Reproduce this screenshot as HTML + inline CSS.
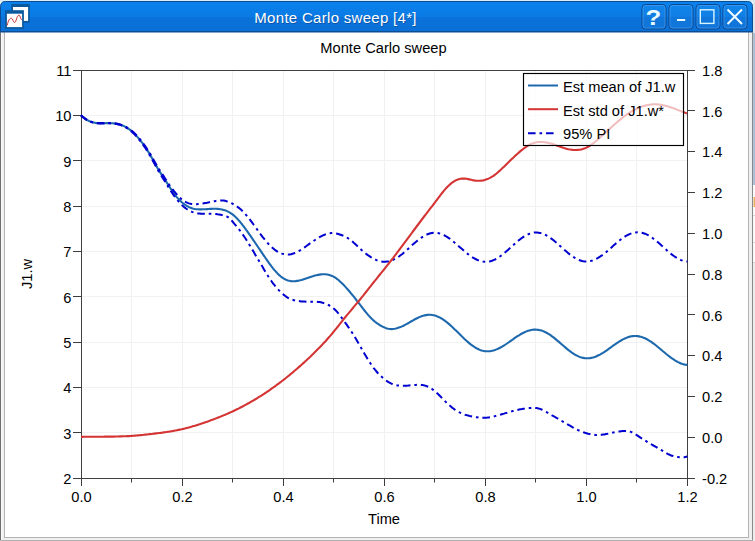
<!DOCTYPE html>
<html><head><meta charset="utf-8"><title>Monte Carlo sweep</title>
<style>
html,body{margin:0;padding:0;}
body{width:755px;height:541px;overflow:hidden;background:#fff;position:relative;font-family:"Liberation Sans",sans-serif;}
#win{position:absolute;left:0;top:0;width:755px;height:541px;}
svg text{font-family:"Liberation Sans",sans-serif;}
</style></head><body>
<svg id="win" width="755" height="541" viewBox="0 0 755 541">
<defs>
<linearGradient id="tb" x1="0" y1="0" x2="0" y2="1">
<stop offset="0" stop-color="#0a82ec"/><stop offset="0.5" stop-color="#0a7ae4"/><stop offset="0.52" stop-color="#0a72da"/><stop offset="1" stop-color="#0a70d6"/>
</linearGradient>
<linearGradient id="bt" x1="0" y1="0" x2="0" y2="1">
<stop offset="0" stop-color="#1a86ea"/><stop offset="0.5" stop-color="#0e78dc"/><stop offset="1" stop-color="#0a6ccc"/>
</linearGradient>
</defs>
<!-- outside strip right -->
<rect x="753" y="0" width="2" height="541" fill="#ececec"/>
<rect x="753" y="33" width="2" height="152" fill="#a9c0d6"/>
<rect x="753" y="185" width="2" height="78" fill="#fafafa"/>
<rect x="753.5" y="197" width="1.5" height="10" fill="#eeb060"/>
<rect x="753" y="215" width="2" height="1" fill="#d8d8d8"/>
<rect x="753" y="242" width="2" height="1" fill="#d8d8d8"/>
<rect x="753" y="262" width="2" height="1" fill="#d0d0d0"/>
<rect x="753" y="0" width="2" height="33" fill="#dfe7ee"/>
<!-- frame -->
<rect x="0" y="30" width="753" height="511" fill="#f0f0f0"/>
<rect x="1" y="30" width="1" height="510" fill="#fbfbfb"/>
<rect x="0" y="30" width="1" height="511" fill="#6e6e6e"/>
<rect x="752" y="30" width="1" height="511" fill="#8a8a8a"/>
<rect x="0" y="540" width="753" height="1" fill="#b0b0b0"/>
<rect x="4" y="31" width="745" height="507" fill="#b4b4b4"/>
<rect x="5" y="32" width="743" height="505" fill="#ffffff"/>
<!-- titlebar -->
<rect x="0" y="0" width="755" height="2" fill="#d8ecf6"/>
<path d="M0.5,32 V6.5 Q0.5,1.5 5.5,1.5 H747.5 Q752.5,1.5 752.5,6.5 V32 Z" fill="url(#tb)" stroke="#0b4c92" stroke-width="1"/>
<rect x="0" y="31" width="753" height="1" fill="#0b4c92"/>
<!-- icon -->
<g>
<rect x="11.2" y="4" width="18.6" height="18.8" fill="#0b5a9e"/>
<rect x="13" y="7" width="15.1" height="13.9" fill="#ffffff"/>
<rect x="5" y="10.2" width="18.9" height="18.7" fill="#0b5a9e"/>
<rect x="6.9" y="13.7" width="15.2" height="13.4" fill="#ffffff"/>
<path d="M7.2,25.4 C8.2,20.5 9.8,18 11.3,18.2 C12.8,18.4 13.4,22.5 14.6,22.5 C16.2,22.5 16.8,15.2 18.8,15.2 C20.4,15.2 20.5,19 21.6,19.8" fill="none" stroke="#c92f2f" stroke-width="1"/>
</g>
<text x="255" y="24" font-size="15" letter-spacing="0.3" fill="#083a78" fill-opacity="0.55">Monte Carlo sweep [4*]</text>
<text x="254.3" y="23.1" font-size="15" letter-spacing="0.3" fill="#ffffff">Monte Carlo sweep [4*]</text>
<!-- buttons -->
<g fill="#ffffff" fill-opacity="0.03" stroke="#0a468e" stroke-width="1">
<rect x="642" y="4.5" width="24" height="24.5" rx="3.5"/>
<rect x="669" y="4.5" width="24" height="24.5" rx="3.5"/>
<rect x="696" y="4.5" width="24" height="24.5" rx="3.5"/>
<rect x="723" y="4.5" width="24" height="24.5" rx="3.5"/>
</g>
<g fill="none" stroke="#5fb4ff" stroke-opacity="0.45" stroke-width="1">
<rect x="643" y="5.5" width="22" height="22.5" rx="2.5"/>
<rect x="670" y="5.5" width="22" height="22.5" rx="2.5"/>
<rect x="697" y="5.5" width="22" height="22.5" rx="2.5"/>
<rect x="724" y="5.5" width="22" height="22.5" rx="2.5"/>
</g>
<text transform="translate(653.4,24.8) scale(1.12,1)" font-size="23" font-weight="bold" fill="#e8fbff" text-anchor="middle">?</text>
<rect x="677" y="19" width="8.2" height="2" fill="#e8fbff"/>
<rect x="700.3" y="9.8" width="13.6" height="13.6" fill="none" stroke="#d8f6ff" stroke-width="1.4"/>
<path d="M727.5,9.5 L742,24 M742,9.5 L727.5,24" stroke="#f0fdff" stroke-width="2" fill="none"/>
<!-- chart -->
<text x="383.5" y="52.5" font-size="14.67" text-anchor="middle" fill="#000">Monte Carlo sweep</text>
<g stroke="#f1f1f1" stroke-width="1"><line x1="131.5" y1="70.5" x2="131.5" y2="478.5"/><line x1="182.5" y1="70.5" x2="182.5" y2="478.5"/><line x1="232.5" y1="70.5" x2="232.5" y2="478.5"/><line x1="283.5" y1="70.5" x2="283.5" y2="478.5"/><line x1="333.5" y1="70.5" x2="333.5" y2="478.5"/><line x1="384.5" y1="70.5" x2="384.5" y2="478.5"/><line x1="434.5" y1="70.5" x2="434.5" y2="478.5"/><line x1="485.5" y1="70.5" x2="485.5" y2="478.5"/><line x1="535.5" y1="70.5" x2="535.5" y2="478.5"/><line x1="586.5" y1="70.5" x2="586.5" y2="478.5"/><line x1="636.5" y1="70.5" x2="636.5" y2="478.5"/><line x1="81.5" y1="115.5" x2="687.5" y2="115.5"/><line x1="81.5" y1="160.5" x2="687.5" y2="160.5"/><line x1="81.5" y1="206.5" x2="687.5" y2="206.5"/><line x1="81.5" y1="251.5" x2="687.5" y2="251.5"/><line x1="81.5" y1="296.5" x2="687.5" y2="296.5"/><line x1="81.5" y1="342.5" x2="687.5" y2="342.5"/><line x1="81.5" y1="387.5" x2="687.5" y2="387.5"/><line x1="81.5" y1="432.5" x2="687.5" y2="432.5"/></g>
<g stroke="#3c3c3c" stroke-width="1"><line x1="81.5" y1="478.5" x2="81.5" y2="486.0"/><line x1="131.5" y1="478.5" x2="131.5" y2="482.5"/><line x1="182.5" y1="478.5" x2="182.5" y2="486.0"/><line x1="232.5" y1="478.5" x2="232.5" y2="482.5"/><line x1="283.5" y1="478.5" x2="283.5" y2="486.0"/><line x1="333.5" y1="478.5" x2="333.5" y2="482.5"/><line x1="384.5" y1="478.5" x2="384.5" y2="486.0"/><line x1="434.5" y1="478.5" x2="434.5" y2="482.5"/><line x1="485.5" y1="478.5" x2="485.5" y2="486.0"/><line x1="535.5" y1="478.5" x2="535.5" y2="482.5"/><line x1="586.5" y1="478.5" x2="586.5" y2="486.0"/><line x1="636.5" y1="478.5" x2="636.5" y2="482.5"/><line x1="687.5" y1="478.5" x2="687.5" y2="486.0"/><line x1="73.0" y1="70.5" x2="81.5" y2="70.5"/><line x1="73.0" y1="115.5" x2="81.5" y2="115.5"/><line x1="73.0" y1="160.5" x2="81.5" y2="160.5"/><line x1="73.0" y1="206.5" x2="81.5" y2="206.5"/><line x1="73.0" y1="251.5" x2="81.5" y2="251.5"/><line x1="73.0" y1="296.5" x2="81.5" y2="296.5"/><line x1="73.0" y1="342.5" x2="81.5" y2="342.5"/><line x1="73.0" y1="387.5" x2="81.5" y2="387.5"/><line x1="73.0" y1="432.5" x2="81.5" y2="432.5"/><line x1="73.0" y1="478.5" x2="81.5" y2="478.5"/><line x1="687.5" y1="70.5" x2="695.0" y2="70.5"/><line x1="687.5" y1="110.5" x2="695.0" y2="110.5"/><line x1="687.5" y1="151.5" x2="695.0" y2="151.5"/><line x1="687.5" y1="192.5" x2="695.0" y2="192.5"/><line x1="687.5" y1="233.5" x2="695.0" y2="233.5"/><line x1="687.5" y1="274.5" x2="695.0" y2="274.5"/><line x1="687.5" y1="314.5" x2="695.0" y2="314.5"/><line x1="687.5" y1="355.5" x2="695.0" y2="355.5"/><line x1="687.5" y1="396.5" x2="695.0" y2="396.5"/><line x1="687.5" y1="437.5" x2="695.0" y2="437.5"/><line x1="687.5" y1="478.5" x2="695.0" y2="478.5"/></g>
<rect x="81.5" y="70.5" width="606.0" height="408.0" fill="none" stroke="#404040" stroke-width="1"/>
<g font-size="14.67" fill="#000"><text x="81.5" y="501.5" text-anchor="middle">0.0</text><text x="182.5" y="501.5" text-anchor="middle">0.2</text><text x="283.5" y="501.5" text-anchor="middle">0.4</text><text x="384.5" y="501.5" text-anchor="middle">0.6</text><text x="485.5" y="501.5" text-anchor="middle">0.8</text><text x="586.5" y="501.5" text-anchor="middle">1.0</text><text x="687.5" y="501.5" text-anchor="middle">1.2</text><text x="71.5" y="75.8" text-anchor="end">11</text><text x="71.5" y="121.1" text-anchor="end">10</text><text x="71.5" y="166.5" text-anchor="end">9</text><text x="71.5" y="211.8" text-anchor="end">8</text><text x="71.5" y="257.1" text-anchor="end">7</text><text x="71.5" y="302.5" text-anchor="end">6</text><text x="71.5" y="347.8" text-anchor="end">5</text><text x="71.5" y="393.1" text-anchor="end">4</text><text x="71.5" y="438.5" text-anchor="end">3</text><text x="71.5" y="483.8" text-anchor="end">2</text><text x="702" y="75.8">1.8</text><text x="702" y="116.6">1.6</text><text x="702" y="157.4">1.4</text><text x="702" y="198.2">1.2</text><text x="702" y="239.0">1.0</text><text x="702" y="279.8">0.8</text><text x="702" y="320.6">0.6</text><text x="702" y="361.4">0.4</text><text x="702" y="402.2">0.2</text><text x="702" y="443.0">0.0</text><text x="702" y="483.8">-0.2</text></g>
<text x="384" y="523.5" font-size="14.67" text-anchor="middle" fill="#000">Time</text>
<text transform="translate(31.5,274) rotate(-90)" font-size="14.67" text-anchor="middle" fill="#000">J1.w</text>
<g fill="none" stroke-width="2" stroke-linejoin="round">
<path d="M81.0,115.3 L82.5,116.7 L84.0,117.9 L85.5,119.0 L87.0,119.9 L88.5,120.7 L90.0,121.4 L91.5,121.9 L93.0,122.4 L94.5,122.7 L96.0,123.0 L97.5,123.1 L99.0,123.2 L100.5,123.2 L102.0,123.2 L103.5,123.2 L105.0,123.2 L106.5,123.1 L108.0,123.1 L109.5,123.1 L111.0,123.2 L112.5,123.3 L114.0,123.4 L115.5,123.6 L117.0,123.9 L118.5,124.2 L120.0,124.6 L121.5,125.2 L123.0,125.7 L124.5,126.4 L126.0,127.2 L127.5,128.1 L129.0,129.1 L130.5,130.2 L132.0,131.5 L133.5,132.8 L135.0,134.3 L136.5,135.9 L138.0,137.6 L139.5,139.4 L141.0,141.3 L142.5,143.2 L144.0,145.3 L145.5,147.5 L147.0,149.8 L148.5,152.1 L150.0,154.6 L151.5,157.2 L153.0,159.9 L154.5,162.6 L156.0,165.3 L157.5,168.0 L159.0,170.5 L160.5,172.9 L162.0,175.3 L163.5,177.6 L165.0,179.8 L166.5,182.1 L168.0,184.5 L169.5,186.8 L171.0,189.2 L172.5,191.4 L174.0,193.6 L175.5,195.6 L177.0,197.4 L178.5,199.1 L180.0,200.6 L181.5,202.0 L183.0,203.2 L184.5,204.4 L186.0,205.4 L187.5,206.3 L189.0,207.1 L190.5,207.7 L192.0,208.3 L193.5,208.7 L195.0,209.0 L196.5,209.2 L198.0,209.3 L199.5,209.4 L201.0,209.4 L202.5,209.3 L204.0,209.3 L205.5,209.2 L207.0,209.1 L208.5,209.0 L210.0,208.9 L211.5,208.9 L213.0,208.8 L214.5,208.8 L216.0,208.8 L217.5,208.9 L219.0,209.0 L220.5,209.2 L222.0,209.5 L223.5,209.9 L225.0,210.3 L226.5,210.9 L228.0,211.6 L229.5,212.4 L231.0,213.3 L232.5,214.4 L234.0,215.6 L235.5,217.0 L237.0,218.5 L238.5,220.1 L240.0,221.8 L241.5,223.7 L243.0,225.6 L244.5,227.5 L246.0,229.6 L247.5,231.6 L249.0,233.8 L250.5,235.9 L252.0,238.1 L253.5,240.3 L255.0,242.5 L256.5,244.8 L258.0,247.0 L259.5,249.2 L261.0,251.4 L262.5,253.6 L264.0,255.8 L265.5,258.0 L267.0,260.2 L268.5,262.3 L270.0,264.4 L271.5,266.4 L273.0,268.3 L274.5,270.1 L276.0,271.8 L277.5,273.4 L279.0,274.9 L280.5,276.2 L282.0,277.4 L283.5,278.4 L285.0,279.2 L286.5,279.9 L288.0,280.4 L289.5,280.8 L291.0,281.1 L292.5,281.2 L294.0,281.2 L295.5,281.1 L297.0,280.9 L298.5,280.7 L300.0,280.3 L301.5,279.9 L303.0,279.4 L304.5,278.9 L306.0,278.4 L307.5,277.9 L309.0,277.4 L310.5,276.9 L312.0,276.4 L313.5,276.0 L315.0,275.5 L316.5,275.2 L318.0,274.9 L319.5,274.6 L321.0,274.4 L322.5,274.3 L324.0,274.3 L325.5,274.3 L327.0,274.5 L328.5,274.8 L330.0,275.2 L331.5,275.7 L333.0,276.4 L334.5,277.2 L336.0,278.2 L337.5,279.3 L339.0,280.5 L340.5,281.9 L342.0,283.3 L343.5,284.8 L345.0,286.4 L346.5,288.1 L348.0,289.8 L349.5,291.5 L351.0,293.3 L352.5,295.1 L354.0,296.9 L355.5,298.8 L357.0,300.8 L358.5,302.7 L360.0,304.7 L361.5,306.6 L363.0,308.6 L364.5,310.5 L366.0,312.4 L367.5,314.2 L369.0,315.9 L370.5,317.5 L372.0,319.0 L373.5,320.4 L375.0,321.7 L376.5,322.9 L378.0,323.9 L379.5,324.9 L381.0,325.8 L382.5,326.6 L384.0,327.3 L385.5,327.9 L387.0,328.4 L388.5,328.8 L390.0,329.0 L391.5,329.1 L393.0,329.0 L394.5,328.8 L396.0,328.5 L397.5,328.1 L399.0,327.6 L400.5,327.1 L402.0,326.4 L403.5,325.7 L405.0,324.9 L406.5,324.1 L408.0,323.3 L409.5,322.4 L411.0,321.5 L412.5,320.7 L414.0,319.8 L415.5,319.0 L417.0,318.2 L418.5,317.5 L420.0,316.9 L421.5,316.3 L423.0,315.8 L424.5,315.4 L426.0,315.1 L427.5,314.9 L429.0,314.8 L430.5,314.8 L432.0,315.0 L433.5,315.2 L435.0,315.6 L436.5,316.1 L438.0,316.7 L439.5,317.4 L441.0,318.2 L442.5,319.1 L444.0,320.1 L445.5,321.2 L447.0,322.4 L448.5,323.6 L450.0,324.9 L451.5,326.3 L453.0,327.7 L454.5,329.2 L456.0,330.6 L457.5,332.1 L459.0,333.6 L460.5,335.1 L462.0,336.6 L463.5,338.0 L465.0,339.4 L466.5,340.8 L468.0,342.1 L469.5,343.4 L471.0,344.6 L472.5,345.7 L474.0,346.7 L475.5,347.7 L477.0,348.5 L478.5,349.2 L480.0,349.9 L481.5,350.4 L483.0,350.8 L484.5,351.1 L486.0,351.2 L487.5,351.3 L489.0,351.2 L490.5,351.1 L492.0,350.8 L493.5,350.4 L495.0,350.0 L496.5,349.4 L498.0,348.8 L499.5,348.0 L501.0,347.2 L502.5,346.4 L504.0,345.5 L505.5,344.5 L507.0,343.5 L508.5,342.5 L510.0,341.4 L511.5,340.3 L513.0,339.3 L514.5,338.2 L516.0,337.2 L517.5,336.2 L519.0,335.3 L520.5,334.3 L522.0,333.5 L523.5,332.7 L525.0,332.0 L526.5,331.4 L528.0,330.8 L529.5,330.4 L531.0,330.0 L532.5,329.8 L534.0,329.6 L535.5,329.6 L537.0,329.7 L538.5,329.9 L540.0,330.2 L541.5,330.6 L543.0,331.1 L544.5,331.7 L546.0,332.5 L547.5,333.3 L549.0,334.2 L550.5,335.2 L552.0,336.3 L553.5,337.4 L555.0,338.6 L556.5,339.9 L558.0,341.1 L559.5,342.4 L561.0,343.7 L562.5,345.0 L564.0,346.3 L565.5,347.6 L567.0,348.9 L568.5,350.1 L570.0,351.2 L571.5,352.3 L573.0,353.3 L574.5,354.3 L576.0,355.2 L577.5,355.9 L579.0,356.6 L580.5,357.2 L582.0,357.6 L583.5,357.9 L585.0,358.2 L586.5,358.3 L588.0,358.3 L589.5,358.2 L591.0,357.9 L592.5,357.6 L594.0,357.2 L595.5,356.7 L597.0,356.0 L598.5,355.3 L600.0,354.6 L601.5,353.7 L603.0,352.8 L604.5,351.8 L606.0,350.8 L607.5,349.8 L609.0,348.7 L610.5,347.6 L612.0,346.5 L613.5,345.4 L615.0,344.4 L616.5,343.3 L618.0,342.3 L619.5,341.4 L621.0,340.5 L622.5,339.6 L624.0,338.9 L625.5,338.2 L627.0,337.6 L628.5,337.1 L630.0,336.6 L631.5,336.3 L633.0,336.1 L634.5,336.0 L636.0,336.0 L637.5,336.1 L639.0,336.4 L640.5,336.7 L642.0,337.1 L643.5,337.7 L645.0,338.3 L646.5,339.0 L648.0,339.9 L649.5,340.8 L651.0,341.7 L652.5,342.8 L654.0,343.9 L655.5,345.0 L657.0,346.2 L658.5,347.5 L660.0,348.7 L661.5,350.0 L663.0,351.3 L664.5,352.5 L666.0,353.8 L667.5,355.0 L669.0,356.2 L670.5,357.3 L672.0,358.4 L673.5,359.4 L675.0,360.4 L676.5,361.3 L678.0,362.1 L679.5,362.8 L681.0,363.5 L682.5,364.0 L684.0,364.4 L685.5,364.7 L687.0,364.9 L687.4,365.0" stroke="#1e69ae" stroke-width="2.1"/>
<path d="M81.0,115.2 L82.5,116.6 L84.0,117.8 L85.5,118.9 L87.0,119.8 L88.5,120.6 L90.0,121.2 L91.5,121.8 L93.0,122.2 L94.5,122.5 L96.0,122.8 L97.5,122.9 L99.0,123.0 L100.5,123.1 L102.0,123.1 L103.5,123.0 L105.0,123.0 L106.5,122.9 L108.0,122.9 L109.5,122.9 L111.0,123.0 L112.5,123.0 L114.0,123.2 L115.5,123.4 L117.0,123.7 L118.5,124.0 L120.0,124.4 L121.5,124.9 L123.0,125.5 L124.5,126.1 L126.0,126.9 L127.5,127.8 L129.0,128.7 L130.5,129.8 L132.0,131.0 L133.5,132.3 L135.0,133.8 L136.5,135.3 L138.0,137.0 L139.5,138.7 L141.0,140.6 L142.5,142.5 L144.0,144.5 L145.5,146.6 L147.0,148.9 L148.5,151.2 L150.0,153.6 L151.5,156.2 L153.0,158.8 L154.5,161.4 L156.0,164.1 L157.5,166.6 L159.0,169.1 L160.5,171.5 L162.0,173.7 L163.5,175.9 L165.0,178.2 L166.5,180.5 L168.0,182.8 L169.5,185.1 L171.0,187.2 L172.5,189.2 L174.0,191.1 L175.5,192.9 L177.0,194.6 L178.5,196.3 L180.0,197.8 L181.5,199.2 L183.0,200.4 L184.5,201.4 L186.0,202.2 L187.5,202.9 L189.0,203.4 L190.5,203.8 L192.0,204.0 L193.5,204.2 L195.0,204.2 L196.5,204.2 L198.0,204.1 L199.5,204.0 L201.0,203.8 L202.5,203.6 L204.0,203.3 L205.5,203.0 L207.0,202.8 L208.5,202.4 L210.0,202.1 L211.5,201.8 L213.0,201.5 L214.5,201.2 L216.0,200.9 L217.5,200.7 L219.0,200.5 L220.5,200.4 L222.0,200.4 L223.5,200.5 L225.0,200.8 L226.5,201.2 L228.0,201.7 L229.5,202.3 L231.0,203.0 L232.5,203.7 L234.0,204.6 L235.5,205.5 L237.0,206.5 L238.5,207.6 L240.0,208.8 L241.5,210.1 L243.0,211.6 L244.5,213.1 L246.0,214.8 L247.5,216.6 L249.0,218.5 L250.5,220.4 L252.0,222.4 L253.5,224.5 L255.0,226.5 L256.5,228.6 L258.0,230.7 L259.5,232.8 L261.0,234.8 L262.5,236.8 L264.0,238.7 L265.5,240.6 L267.0,242.3 L268.5,244.0 L270.0,245.6 L271.5,247.0 L273.0,248.3 L274.5,249.6 L276.0,250.6 L277.5,251.6 L279.0,252.4 L280.5,253.1 L282.0,253.6 L283.5,254.0 L285.0,254.3 L286.5,254.5 L288.0,254.5 L289.5,254.4 L291.0,254.2 L292.5,253.8 L294.0,253.3 L295.5,252.7 L297.0,252.0 L298.5,251.2 L300.0,250.3 L301.5,249.3 L303.0,248.3 L304.5,247.3 L306.0,246.3 L307.5,245.2 L309.0,244.1 L310.5,243.1 L312.0,242.0 L313.5,241.0 L315.0,240.0 L316.5,239.0 L318.0,238.1 L319.5,237.2 L321.0,236.4 L322.5,235.6 L324.0,235.0 L325.5,234.4 L327.0,233.9 L328.5,233.5 L330.0,233.3 L331.5,233.1 L333.0,233.1 L334.5,233.2 L336.0,233.5 L337.5,233.8 L339.0,234.2 L340.5,234.7 L342.0,235.2 L343.5,235.8 L345.0,236.5 L346.5,237.3 L348.0,238.2 L349.5,239.3 L351.0,240.4 L352.5,241.6 L354.0,242.9 L355.5,244.3 L357.0,245.7 L358.5,247.1 L360.0,248.5 L361.5,249.9 L363.0,251.2 L364.5,252.5 L366.0,253.7 L367.5,254.9 L369.0,255.9 L370.5,256.9 L372.0,257.9 L373.5,258.7 L375.0,259.4 L376.5,260.1 L378.0,260.7 L379.5,261.1 L381.0,261.5 L382.5,261.7 L384.0,261.8 L385.5,261.8 L387.0,261.6 L388.5,261.4 L390.0,261.0 L391.5,260.5 L393.0,259.9 L394.5,259.2 L396.0,258.4 L397.5,257.5 L399.0,256.5 L400.5,255.3 L402.0,254.2 L403.5,252.9 L405.0,251.6 L406.5,250.3 L408.0,248.9 L409.5,247.6 L411.0,246.2 L412.5,244.8 L414.0,243.5 L415.5,242.2 L417.0,241.0 L418.5,239.8 L420.0,238.6 L421.5,237.6 L423.0,236.6 L424.5,235.7 L426.0,234.9 L427.5,234.3 L429.0,233.7 L430.5,233.2 L432.0,232.9 L433.5,232.7 L435.0,232.7 L436.5,232.8 L438.0,233.1 L439.5,233.4 L441.0,233.9 L442.5,234.5 L444.0,235.2 L445.5,236.0 L447.0,236.9 L448.5,237.9 L450.0,238.9 L451.5,240.1 L453.0,241.2 L454.5,242.5 L456.0,243.7 L457.5,245.0 L459.0,246.4 L460.5,247.7 L462.0,249.0 L463.5,250.3 L465.0,251.6 L466.5,252.9 L468.0,254.1 L469.5,255.2 L471.0,256.3 L472.5,257.3 L474.0,258.2 L475.5,259.0 L477.0,259.8 L478.5,260.4 L480.0,260.9 L481.5,261.3 L483.0,261.6 L484.5,261.8 L486.0,261.8 L487.5,261.7 L489.0,261.5 L490.5,261.2 L492.0,260.7 L493.5,260.1 L495.0,259.5 L496.5,258.7 L498.0,257.8 L499.5,256.8 L501.0,255.7 L502.5,254.6 L504.0,253.3 L505.5,252.1 L507.0,250.8 L508.5,249.4 L510.0,248.1 L511.5,246.7 L513.0,245.3 L514.5,244.0 L516.0,242.7 L517.5,241.4 L519.0,240.1 L520.5,239.0 L522.0,237.9 L523.5,236.9 L525.0,235.9 L526.5,235.1 L528.0,234.4 L529.5,233.8 L531.0,233.3 L532.5,232.9 L534.0,232.6 L535.5,232.5 L537.0,232.5 L538.5,232.7 L540.0,232.9 L541.5,233.3 L543.0,233.8 L544.5,234.4 L546.0,235.2 L547.5,236.0 L549.0,236.9 L550.5,238.0 L552.0,239.1 L553.5,240.2 L555.0,241.5 L556.5,242.7 L558.0,244.1 L559.5,245.4 L561.0,246.8 L562.5,248.1 L564.0,249.5 L565.5,250.8 L567.0,252.1 L568.5,253.4 L570.0,254.6 L571.5,255.7 L573.0,256.7 L574.5,257.7 L576.0,258.6 L577.5,259.3 L579.0,260.0 L580.5,260.5 L582.0,261.0 L583.5,261.3 L585.0,261.4 L586.5,261.5 L588.0,261.4 L589.5,261.2 L591.0,260.9 L592.5,260.5 L594.0,259.9 L595.5,259.3 L597.0,258.5 L598.5,257.6 L600.0,256.7 L601.5,255.7 L603.0,254.6 L604.5,253.4 L606.0,252.2 L607.5,250.9 L609.0,249.6 L610.5,248.3 L612.0,246.9 L613.5,245.6 L615.0,244.3 L616.5,243.0 L618.0,241.7 L619.5,240.5 L621.0,239.3 L622.5,238.2 L624.0,237.2 L625.5,236.2 L627.0,235.4 L628.5,234.6 L630.0,233.9 L631.5,233.4 L633.0,232.9 L634.5,232.6 L636.0,232.4 L637.5,232.3 L639.0,232.3 L640.5,232.5 L642.0,232.8 L643.5,233.2 L645.0,233.7 L646.5,234.4 L648.0,235.1 L649.5,236.0 L651.0,236.9 L652.5,238.0 L654.0,239.1 L655.5,240.3 L657.0,241.5 L658.5,242.8 L660.0,244.1 L661.5,245.5 L663.0,246.8 L664.5,248.2 L666.0,249.5 L667.5,250.9 L669.0,252.1 L670.5,253.4 L672.0,254.6 L673.5,255.7 L675.0,256.8 L676.5,257.7 L678.0,258.6 L679.5,259.4 L681.0,260.1 L682.5,260.6 L684.0,261.1 L685.5,261.4 L687.0,261.6 L687.4,261.6" stroke="#0000d0" stroke-width="2" stroke-dasharray="7.6 3.9 2.6 3.9"/>
<path d="M81.0,115.4 L82.5,116.8 L84.0,118.0 L85.5,119.1 L87.0,120.1 L88.5,120.9 L90.0,121.5 L91.5,122.1 L93.0,122.5 L94.5,122.9 L96.0,123.1 L97.5,123.3 L99.0,123.4 L100.5,123.4 L102.0,123.4 L103.5,123.4 L105.0,123.4 L106.5,123.3 L108.0,123.3 L109.5,123.3 L111.0,123.4 L112.5,123.5 L114.0,123.6 L115.5,123.8 L117.0,124.1 L118.5,124.5 L120.0,124.9 L121.5,125.4 L123.0,126.0 L124.5,126.7 L126.0,127.5 L127.5,128.5 L129.0,129.5 L130.5,130.6 L132.0,131.9 L133.5,133.3 L135.0,134.8 L136.5,136.4 L138.0,138.2 L139.5,140.0 L141.0,141.9 L142.5,144.0 L144.0,146.1 L145.5,148.3 L147.0,150.7 L148.5,153.1 L150.0,155.7 L151.5,158.3 L153.0,161.1 L154.5,163.8 L156.0,166.6 L157.5,169.3 L159.0,171.9 L160.5,174.4 L162.0,176.8 L163.5,179.1 L165.0,181.5 L166.5,183.9 L168.0,186.4 L169.5,188.8 L171.0,191.1 L172.5,193.4 L174.0,195.6 L175.5,197.6 L177.0,199.6 L178.5,201.4 L180.0,203.1 L181.5,204.6 L183.0,206.1 L184.5,207.4 L186.0,208.5 L187.5,209.5 L189.0,210.4 L190.5,211.2 L192.0,211.9 L193.5,212.4 L195.0,212.9 L196.5,213.2 L198.0,213.5 L199.5,213.6 L201.0,213.7 L202.5,213.8 L204.0,213.8 L205.5,213.8 L207.0,213.7 L208.5,213.7 L210.0,213.7 L211.5,213.7 L213.0,213.7 L214.5,213.8 L216.0,214.0 L217.5,214.3 L219.0,214.5 L220.5,214.8 L222.0,215.1 L223.5,215.4 L225.0,215.8 L226.5,216.3 L228.0,217.1 L229.5,218.3 L231.0,219.8 L232.5,221.5 L234.0,223.3 L235.5,225.1 L237.0,226.9 L238.5,228.8 L240.0,230.7 L241.5,232.7 L243.0,234.8 L244.5,237.0 L246.0,239.3 L247.5,241.7 L249.0,244.1 L250.5,246.6 L252.0,249.1 L253.5,251.6 L255.0,254.2 L256.5,256.7 L258.0,259.2 L259.5,261.8 L261.0,264.3 L262.5,266.8 L264.0,269.4 L265.5,271.9 L267.0,274.3 L268.5,276.7 L270.0,279.0 L271.5,281.2 L273.0,283.3 L274.5,285.2 L276.0,287.1 L277.5,288.8 L279.0,290.4 L280.5,291.9 L282.0,293.3 L283.5,294.6 L285.0,295.8 L286.5,296.9 L288.0,297.9 L289.5,298.7 L291.0,299.3 L292.5,299.8 L294.0,300.2 L295.5,300.6 L297.0,300.8 L298.5,301.0 L300.0,301.2 L301.5,301.4 L303.0,301.5 L304.5,301.6 L306.0,301.7 L307.5,301.8 L309.0,301.8 L310.5,301.8 L312.0,301.8 L313.5,301.8 L315.0,301.8 L316.5,301.8 L318.0,301.9 L319.5,302.1 L321.0,302.3 L322.5,302.7 L324.0,303.1 L325.5,303.6 L327.0,304.2 L328.5,305.0 L330.0,305.8 L331.5,306.8 L333.0,307.9 L334.5,309.2 L336.0,310.7 L337.5,312.4 L339.0,314.2 L340.5,316.2 L342.0,318.2 L343.5,320.3 L345.0,322.4 L346.5,324.4 L348.0,326.6 L349.5,328.7 L351.0,331.0 L352.5,333.3 L354.0,335.7 L355.5,338.1 L357.0,340.7 L358.5,343.3 L360.0,345.9 L361.5,348.5 L363.0,351.1 L364.5,353.7 L366.0,356.3 L367.5,358.8 L369.0,361.2 L370.5,363.5 L372.0,365.7 L373.5,367.8 L375.0,369.7 L376.5,371.5 L378.0,373.3 L379.5,374.8 L381.0,376.3 L382.5,377.6 L384.0,378.9 L385.5,380.1 L387.0,381.1 L388.5,382.1 L390.0,382.9 L391.5,383.7 L393.0,384.3 L394.5,384.8 L396.0,385.2 L397.5,385.5 L399.0,385.6 L400.5,385.8 L402.0,385.8 L403.5,385.8 L405.0,385.8 L406.5,385.7 L408.0,385.6 L409.5,385.4 L411.0,385.3 L412.5,385.2 L414.0,385.0 L415.5,384.9 L417.0,384.8 L418.5,384.8 L420.0,384.8 L421.5,384.9 L423.0,385.1 L424.5,385.5 L426.0,385.9 L427.5,386.5 L429.0,387.1 L430.5,388.0 L432.0,389.0 L433.5,390.1 L435.0,391.3 L436.5,392.6 L438.0,394.0 L439.5,395.5 L441.0,397.0 L442.5,398.6 L444.0,400.1 L445.5,401.6 L447.0,403.1 L448.5,404.5 L450.0,405.8 L451.5,407.1 L453.0,408.3 L454.5,409.4 L456.0,410.4 L457.5,411.4 L459.0,412.2 L460.5,412.9 L462.0,413.6 L463.5,414.1 L465.0,414.7 L466.5,415.1 L468.0,415.5 L469.5,415.9 L471.0,416.2 L472.5,416.6 L474.0,416.8 L475.5,417.1 L477.0,417.3 L478.5,417.5 L480.0,417.7 L481.5,417.8 L483.0,417.8 L484.5,417.8 L486.0,417.7 L487.5,417.6 L489.0,417.4 L490.5,417.1 L492.0,416.8 L493.5,416.5 L495.0,416.1 L496.5,415.7 L498.0,415.3 L499.5,414.9 L501.0,414.5 L502.5,414.0 L504.0,413.6 L505.5,413.1 L507.0,412.7 L508.5,412.2 L510.0,411.8 L511.5,411.4 L513.0,411.0 L514.5,410.6 L516.0,410.3 L517.5,409.9 L519.0,409.6 L520.5,409.3 L522.0,409.1 L523.5,408.8 L525.0,408.6 L526.5,408.5 L528.0,408.3 L529.5,408.1 L531.0,408.0 L532.5,407.9 L534.0,407.9 L535.5,408.0 L537.0,408.1 L538.5,408.5 L540.0,408.9 L541.5,409.5 L543.0,410.2 L544.5,411.0 L546.0,411.8 L547.5,412.6 L549.0,413.5 L550.5,414.4 L552.0,415.3 L553.5,416.1 L555.0,417.0 L556.5,417.9 L558.0,418.7 L559.5,419.6 L561.0,420.5 L562.5,421.3 L564.0,422.2 L565.5,423.1 L567.0,424.0 L568.5,424.9 L570.0,425.7 L571.5,426.6 L573.0,427.5 L574.5,428.3 L576.0,429.1 L577.5,429.8 L579.0,430.5 L580.5,431.1 L582.0,431.7 L583.5,432.3 L585.0,432.8 L586.5,433.2 L588.0,433.7 L589.5,434.0 L591.0,434.4 L592.5,434.6 L594.0,434.8 L595.5,435.0 L597.0,435.0 L598.5,435.0 L600.0,435.0 L601.5,434.8 L603.0,434.6 L604.5,434.4 L606.0,434.1 L607.5,433.8 L609.0,433.4 L610.5,433.1 L612.0,432.8 L613.5,432.4 L615.0,432.1 L616.5,431.8 L618.0,431.6 L619.5,431.4 L621.0,431.2 L622.5,431.1 L624.0,431.0 L625.5,431.0 L627.0,431.1 L628.5,431.3 L630.0,431.6 L631.5,432.1 L633.0,432.8 L634.5,433.7 L636.0,434.6 L637.5,435.6 L639.0,436.6 L640.5,437.6 L642.0,438.6 L643.5,439.5 L645.0,440.5 L646.5,441.4 L648.0,442.4 L649.5,443.3 L651.0,444.1 L652.5,445.0 L654.0,445.8 L655.5,446.7 L657.0,447.5 L658.5,448.4 L660.0,449.3 L661.5,450.2 L663.0,451.1 L664.5,452.1 L666.0,452.9 L667.5,453.8 L669.0,454.5 L670.5,455.2 L672.0,455.7 L673.5,456.2 L675.0,456.6 L676.5,456.9 L678.0,457.1 L679.5,457.3 L681.0,457.4 L682.5,457.3 L684.0,457.2 L685.5,456.9 L687.0,456.6 L687.4,456.4" stroke="#0000d0" stroke-width="2" stroke-dasharray="7.6 3.9 2.6 3.9"/>
<path d="M81.0,436.9 L82.5,436.9 L84.0,436.8 L85.5,436.8 L87.0,436.8 L88.5,436.7 L90.0,436.7 L91.5,436.7 L93.0,436.7 L94.5,436.7 L96.0,436.7 L97.5,436.7 L99.0,436.7 L100.5,436.7 L102.0,436.7 L103.5,436.7 L105.0,436.6 L106.5,436.6 L108.0,436.6 L109.5,436.6 L111.0,436.6 L112.5,436.6 L114.0,436.6 L115.5,436.5 L117.0,436.5 L118.5,436.5 L120.0,436.4 L121.5,436.4 L123.0,436.3 L124.5,436.3 L126.0,436.2 L127.5,436.1 L129.0,436.1 L130.5,436.0 L132.0,435.9 L133.5,435.8 L135.0,435.6 L136.5,435.5 L138.0,435.4 L139.5,435.3 L141.0,435.1 L142.5,435.0 L144.0,434.8 L145.5,434.6 L147.0,434.5 L148.5,434.3 L150.0,434.1 L151.5,434.0 L153.0,433.8 L154.5,433.6 L156.0,433.4 L157.5,433.2 L159.0,433.0 L160.5,432.9 L162.0,432.7 L163.5,432.4 L165.0,432.2 L166.5,432.0 L168.0,431.8 L169.5,431.6 L171.0,431.3 L172.5,431.1 L174.0,430.8 L175.5,430.5 L177.0,430.2 L178.5,429.9 L180.0,429.6 L181.5,429.3 L183.0,428.9 L184.5,428.6 L186.0,428.2 L187.5,427.8 L189.0,427.4 L190.5,427.0 L192.0,426.6 L193.5,426.1 L195.0,425.7 L196.5,425.2 L198.0,424.7 L199.5,424.3 L201.0,423.8 L202.5,423.3 L204.0,422.7 L205.5,422.2 L207.0,421.7 L208.5,421.2 L210.0,420.6 L211.5,420.1 L213.0,419.5 L214.5,419.0 L216.0,418.4 L217.5,417.8 L219.0,417.2 L220.5,416.6 L222.0,416.0 L223.5,415.4 L225.0,414.8 L226.5,414.1 L228.0,413.5 L229.5,412.8 L231.0,412.1 L232.5,411.5 L234.0,410.7 L235.5,410.0 L237.0,409.3 L238.5,408.6 L240.0,407.8 L241.5,407.0 L243.0,406.2 L244.5,405.4 L246.0,404.6 L247.5,403.8 L249.0,403.0 L250.5,402.1 L252.0,401.2 L253.5,400.4 L255.0,399.5 L256.5,398.6 L258.0,397.6 L259.5,396.7 L261.0,395.8 L262.5,394.8 L264.0,393.8 L265.5,392.8 L267.0,391.8 L268.5,390.8 L270.0,389.8 L271.5,388.7 L273.0,387.7 L274.5,386.6 L276.0,385.5 L277.5,384.4 L279.0,383.3 L280.5,382.2 L282.0,381.0 L283.5,379.9 L285.0,378.7 L286.5,377.5 L288.0,376.3 L289.5,375.1 L291.0,373.8 L292.5,372.6 L294.0,371.3 L295.5,370.0 L297.0,368.7 L298.5,367.4 L300.0,366.1 L301.5,364.8 L303.0,363.4 L304.5,362.1 L306.0,360.7 L307.5,359.3 L309.0,357.9 L310.5,356.5 L312.0,355.0 L313.5,353.6 L315.0,352.1 L316.5,350.6 L318.0,349.1 L319.5,347.6 L321.0,346.0 L322.5,344.4 L324.0,342.8 L325.5,341.2 L327.0,339.5 L328.5,337.8 L330.0,336.1 L331.5,334.3 L333.0,332.5 L334.5,330.7 L336.0,328.8 L337.5,327.0 L339.0,325.1 L340.5,323.2 L342.0,321.3 L343.5,319.4 L345.0,317.5 L346.5,315.7 L348.0,313.9 L349.5,312.1 L351.0,310.3 L352.5,308.5 L354.0,306.7 L355.5,304.9 L357.0,303.1 L358.5,301.3 L360.0,299.5 L361.5,297.6 L363.0,295.8 L364.5,293.9 L366.0,292.0 L367.5,290.1 L369.0,288.2 L370.5,286.3 L372.0,284.4 L373.5,282.5 L375.0,280.7 L376.5,278.8 L378.0,276.9 L379.5,275.0 L381.0,273.2 L382.5,271.3 L384.0,269.5 L385.5,267.6 L387.0,265.7 L388.5,263.8 L390.0,261.9 L391.5,260.0 L393.0,258.1 L394.5,256.1 L396.0,254.2 L397.5,252.2 L399.0,250.2 L400.5,248.2 L402.0,246.2 L403.5,244.2 L405.0,242.2 L406.5,240.1 L408.0,238.1 L409.5,236.1 L411.0,234.1 L412.5,232.0 L414.0,230.0 L415.5,228.0 L417.0,226.0 L418.5,224.0 L420.0,222.0 L421.5,220.0 L423.0,218.0 L424.5,216.0 L426.0,214.1 L427.5,212.1 L429.0,210.2 L430.5,208.2 L432.0,206.3 L433.5,204.3 L435.0,202.3 L436.5,200.3 L438.0,198.3 L439.5,196.3 L441.0,194.4 L442.5,192.5 L444.0,190.7 L445.5,188.9 L447.0,187.3 L448.5,185.8 L450.0,184.4 L451.5,183.1 L453.0,182.0 L454.5,181.1 L456.0,180.3 L457.5,179.6 L459.0,179.2 L460.5,178.8 L462.0,178.6 L463.5,178.5 L465.0,178.6 L466.5,178.8 L468.0,179.1 L469.5,179.4 L471.0,179.7 L472.5,180.1 L474.0,180.4 L475.5,180.6 L477.0,180.7 L478.5,180.8 L480.0,180.8 L481.5,180.6 L483.0,180.4 L484.5,180.1 L486.0,179.6 L487.5,179.1 L489.0,178.4 L490.5,177.6 L492.0,176.7 L493.5,175.8 L495.0,174.7 L496.5,173.5 L498.0,172.2 L499.5,170.9 L501.0,169.5 L502.5,168.1 L504.0,166.7 L505.5,165.2 L507.0,163.7 L508.5,162.3 L510.0,160.8 L511.5,159.3 L513.0,157.9 L514.5,156.5 L516.0,155.1 L517.5,153.8 L519.0,152.4 L520.5,151.1 L522.0,149.9 L523.5,148.7 L525.0,147.6 L526.5,146.5 L528.0,145.6 L529.5,144.7 L531.0,144.0 L532.5,143.4 L534.0,142.9 L535.5,142.5 L537.0,142.2 L538.5,142.0 L540.0,142.0 L541.5,142.0 L543.0,142.0 L544.5,142.2 L546.0,142.4 L547.5,142.7 L549.0,143.0 L550.5,143.4 L552.0,143.8 L553.5,144.3 L555.0,144.8 L556.5,145.4 L558.0,145.9 L559.5,146.5 L561.0,147.0 L562.5,147.6 L564.0,148.1 L565.5,148.5 L567.0,148.9 L568.5,149.3 L570.0,149.5 L571.5,149.7 L573.0,149.9 L574.5,150.0 L576.0,150.0 L577.5,149.9 L579.0,149.8 L580.5,149.6 L582.0,149.3 L583.5,148.8 L585.0,148.3 L586.5,147.6 L588.0,146.8 L589.5,145.9 L591.0,144.9 L592.5,143.8 L594.0,142.7 L595.5,141.5 L597.0,140.2 L598.5,139.0 L600.0,137.6 L601.5,136.3 L603.0,135.0 L604.5,133.6 L606.0,132.2 L607.5,130.8 L609.0,129.4 L610.5,128.1 L612.0,126.7 L613.5,125.3 L615.0,124.0 L616.5,122.7 L618.0,121.4 L619.5,120.1 L621.0,118.9 L622.5,117.7 L624.0,116.5 L625.5,115.4 L627.0,114.3 L628.5,113.3 L630.0,112.4 L631.5,111.5 L633.0,110.6 L634.5,109.8 L636.0,109.1 L637.5,108.4 L639.0,107.7 L640.5,107.1 L642.0,106.6 L643.5,106.1 L645.0,105.7 L646.5,105.3 L648.0,105.0 L649.5,104.7 L651.0,104.5 L652.5,104.4 L654.0,104.3 L655.5,104.3 L657.0,104.4 L658.5,104.5 L660.0,104.7 L661.5,104.9 L663.0,105.2 L664.5,105.5 L666.0,105.9 L667.5,106.3 L669.0,106.8 L670.5,107.2 L672.0,107.7 L673.5,108.3 L675.0,108.8 L676.5,109.4 L678.0,110.0 L679.5,110.6 L681.0,111.2 L682.5,111.8 L684.0,112.3 L685.5,112.9 L687.0,113.5" stroke="#d43434" stroke-width="2.1"/>
</g>
<!-- legend -->
<rect x="523.5" y="73.5" width="160" height="72" fill="#ffffff" fill-opacity="0.68" stroke="#000" stroke-width="1.15"/>
<g stroke-width="2" fill="none">
<line x1="528" y1="85.5" x2="558" y2="85.5" stroke="#1e69ae"/>
<line x1="528" y1="109.2" x2="558" y2="109.2" stroke="#d43434"/>
<line x1="528" y1="133.3" x2="556" y2="133.3" stroke="#0000d0" stroke-dasharray="7.6 3.9 2.6 3.9"/>
</g>
<g font-size="14.67" fill="#000">
<text x="563" y="92">Est mean of J1.w</text>
<text x="563" y="115.5">Est std of J1.w*</text>
<text x="563" y="139">95% PI</text>
</g>
</svg>
</body></html>
